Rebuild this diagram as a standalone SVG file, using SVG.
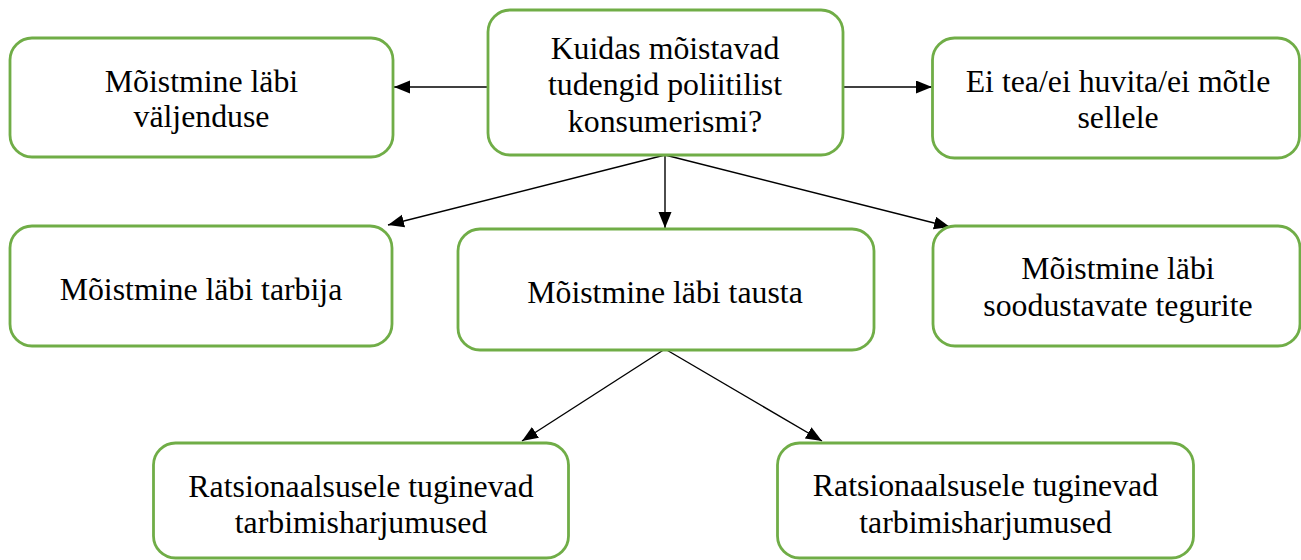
<svg xmlns="http://www.w3.org/2000/svg" width="1301" height="560" viewBox="0 0 1301 560">
<style>
.box{fill:#fff;stroke:#70AD47;stroke-width:2.8}
.t{font-family:'Liberation Serif', 'Tinos', 'Times New Roman', 'DejaVu Serif', serif;font-size:31.8px;fill:#000;text-anchor:middle}
.c{stroke:#000;stroke-width:1.4;fill:none;marker-end:url(#ah)}
</style>
<defs>
<marker id="ah" markerUnits="userSpaceOnUse" markerWidth="17" markerHeight="14" refX="16" refY="6.5" orient="auto" viewBox="0 0 17 14">
<path d="M0,0 L16,6.5 L0,13 z" fill="#000"/>
</marker>
</defs>
<rect width="1301" height="560" fill="#fff"/>
<g id="connectors">
<line class="c" x1="488" y1="87" x2="394" y2="87"/>
<line class="c" x1="842" y1="87" x2="932" y2="87"/>
<line class="c" x1="665" y1="155" x2="388" y2="225"/>
<line class="c" x1="665" y1="155" x2="665" y2="228"/>
<line class="c" x1="665" y1="155" x2="950" y2="227"/>
<line class="c" x1="665" y1="349" x2="522" y2="441"/>
<line class="c" x1="665" y1="349" x2="822" y2="441"/>
</g>
<g id="n-question">
<rect class="box" x="488" y="10" width="355" height="145" rx="22"/>
<text class="t" font-family="Liberation Serif, serif" x="665" y="59">Kuidas mõistavad</text>
<text class="t" font-family="Liberation Serif, serif" x="665" y="95">tudengid poliitilist</text>
<text class="t" font-family="Liberation Serif, serif" x="665" y="131.5">konsumerismi?</text>
</g>
<g id="n-valjenduse">
<rect class="box" x="10" y="38" width="383" height="119" rx="22"/>
<text class="t" x="201.5" y="91.5">Mõistmine läbi</text>
<text class="t" x="201.5" y="127">väljenduse</text>
</g>
<g id="n-eitea">
<rect class="box" x="932.5" y="38" width="367" height="120" rx="22"/>
<text class="t" x="1118" y="92">Ei tea/ei huvita/ei mõtle</text>
<text class="t" x="1118" y="128">sellele</text>
</g>
<g id="n-tarbija">
<rect class="box" x="10" y="226" width="382" height="120" rx="22"/>
<text class="t" x="201" y="300">Mõistmine läbi tarbija</text>
</g>
<g id="n-tausta">
<rect class="box" x="458" y="229" width="416" height="121" rx="22"/>
<text class="t" x="665" y="303">Mõistmine läbi tausta</text>
</g>
<g id="n-soodustavate">
<rect class="box" x="933" y="226" width="367" height="120" rx="22"/>
<text class="t" x="1118" y="279">Mõistmine läbi</text>
<text class="t" x="1118" y="315.5">soodustavate tegurite</text>
</g>
<g id="n-ratsionaal1">
<rect class="box" x="153.5" y="443" width="415" height="115" rx="22"/>
<text class="t" x="361" y="496.5">Ratsionaalsusele tuginevad</text>
<text class="t" x="361" y="532.5">tarbimisharjumused</text>
</g>
<g id="n-ratsionaal2">
<rect class="box" x="777.5" y="443" width="416" height="115" rx="22"/>
<text class="t" x="985.5" y="496">Ratsionaalsusele tuginevad</text>
<text class="t" x="985.5" y="532.5">tarbimisharjumused</text>
</g>
</svg>
